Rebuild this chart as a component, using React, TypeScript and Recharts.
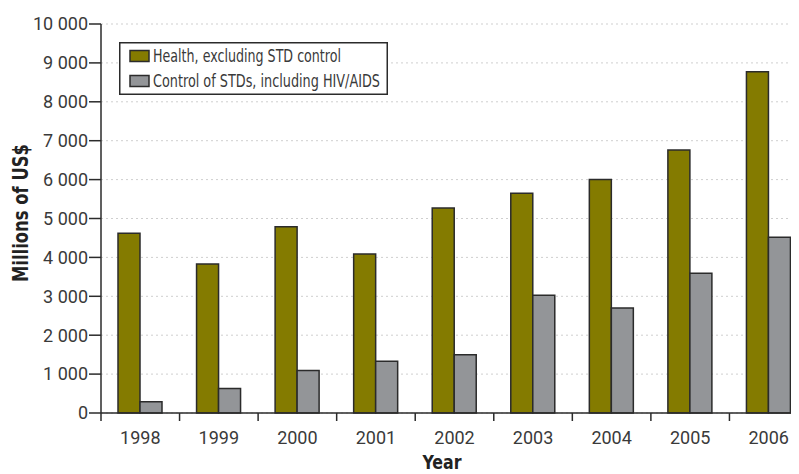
import React from 'react';
import { BarChart, Bar, XAxis, YAxis, CartesianGrid, Legend } from 'recharts';

const years = ['1998', '1999', '2000', '2001', '2002', '2003', '2004', '2005', '2006'];
const healthExclStd = [4620, 3830, 4790, 4090, 5270, 5650, 6000, 6760, 8770];
const stdControl = [290, 630, 1090, 1330, 1500, 3030, 2700, 3590, 4520];
const yTicks = [0, 1000, 2000, 3000, 4000, 5000, 6000, 7000, 8000, 9000, 10000];

const seriesNames = ['Health, excluding STD control', 'Control of STDs, including HIV/AIDS'];
const legendTextWidths = [188, 227];

const data = years.map((year, i) => ({
  year,
  [seriesNames[0]]: healthExclStd[i],
  [seriesNames[1]]: stdControl[i],
}));

const CHART_W = 800;
const CHART_H = 466;
const Y_AXIS_W = 93;
const STEP = (CHART_W - Y_AXIS_W) / years.length;

const FONT = 'Roboto, "Liberation Sans", sans-serif';
const NARROW = '"Liberation Sans Narrow", "DejaVu Sans Condensed", Roboto, sans-serif';
const TEXT = '#3a3a3a';
const OLIVE = '#847b00';
const GREY = '#939598';
const EDGE = '#2b2b2b';

const fmt = (v: number) => (v >= 1000 ? `${Math.floor(v / 1000)} ${String(v % 1000).padStart(3, '0')}` : String(v));

const YearTick = (props: any) => {
  const { x, y, payload } = props;
  return (
    <g>
      <line x1={x - STEP / 2} x2={x - STEP / 2} y1={y - 10} y2={y - 2} stroke={EDGE} strokeWidth={1.5} />
      <text x={x} y={y + 14} textAnchor="middle" dominantBaseline="central" fill={TEXT} fontSize={18} fontFamily={FONT}>
        {payload.value}
      </text>
    </g>
  );
};

const LegendBox = (props: any) => {
  const payload = props.payload || [];
  // keep the reference order regardless of how recharts sorts the payload
  const items = seriesNames.map((name, i) => {
    const hit = payload.find((p: any) => p.value === name);
    return { name, color: hit ? hit.color : i === 0 ? OLIVE : GREY, width: legendTextWidths[i] };
  });
  // svg is wider than the box so the squeezed text never reads as clipped
  return (
    <svg width={360} height={53} style={{ display: 'block', overflow: 'visible' }}>
      <rect x={0.75} y={0.75} width={267.5} height={51.5} fill="#fff" stroke={EDGE} strokeWidth={1.5} />
      {items.map((it, i) => (
        <g key={it.name}>
          <rect x={11} y={8.5 + i * 25} width={19} height={11} fill={it.color} stroke={EDGE} strokeWidth={1.5} />
          <text
            x={34}
            y={14 + i * 25}
            dominantBaseline="central"
            fill={TEXT}
            fontSize={17}
            fontFamily={NARROW}
            textLength={it.width}
            lengthAdjust="spacingAndGlyphs"
          >
            {it.name}
          </text>
        </g>
      ))}
    </svg>
  );
};

export default function App() {
  return (
    <div style={{ width: 791, height: CHART_H, overflow: 'hidden' }}>
      <BarChart
        width={CHART_W}
        height={CHART_H}
        data={data}
        margin={{ top: 16, right: 0, left: 0, bottom: 31 }}
        barGap={0}
      >
        <CartesianGrid vertical={false} stroke="#cfcfcf" strokeDasharray="2 3" />
        <XAxis
          dataKey="year"
          height={30}
          stroke={EDGE}
          strokeWidth={1.5}
          tickLine={false}
          tickSize={8}
          tickMargin={2}
          tick={<YearTick />}
          interval={0}
          label={() => (
            <text x={434} y={461} textAnchor="middle" fill="#222" fontSize={20} fontWeight="bold" fontFamily={NARROW} textLength={39} lengthAdjust="spacingAndGlyphs">
              Year
            </text>
          )}
        />
        <YAxis
          width={Y_AXIS_W}
          domain={[0, 10000]}
          ticks={yTicks}
          interval={0}
          tickFormatter={fmt}
          stroke={EDGE}
          strokeWidth={1.5}
          tickSize={12}
          tickMargin={1}
          tick={{ fill: TEXT, fontSize: 18, fontFamily: FONT }}
          label={() => (
            <text x={13} y={205} transform="rotate(-90 13 205)" textAnchor="middle" dominantBaseline="central" fill="#222" fontSize={21} fontWeight="bold" fontFamily={NARROW} textLength={138} lengthAdjust="spacingAndGlyphs">
              Millions of US$
            </text>
          )}
        />
        <Legend
          layout="horizontal"
          verticalAlign="middle"
          align="center"
          content={<LegendBox />}
          wrapperStyle={{ left: 111, top: 34, width: 360, height: 53 }}
        />
        <Bar dataKey={seriesNames[0]} fill={OLIVE} stroke={EDGE} strokeWidth={1.5} barSize={22} isAnimationActive={false} />
        <Bar dataKey={seriesNames[1]} fill={GREY} stroke={EDGE} strokeWidth={1.5} barSize={22} isAnimationActive={false} />
      </BarChart>
    </div>
  );
}
